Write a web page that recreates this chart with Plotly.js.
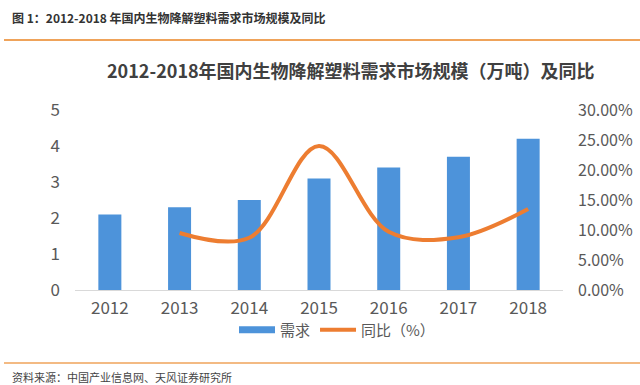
<!DOCTYPE html>
<html><head><meta charset="utf-8">
<script src="https://cdn.plot.ly/plotly-3.0.1.min.js"></script>
<style>body{margin:0;background:#fff}#c{width:640px;height:385px}</style>
</head><body><div id="c"></div>
<script>
const years = ['2012','2013','2014','2015','2016','2017','2018'];
const demand = [2.1, 2.3, 2.5, 3.1, 3.4, 3.7, 4.2];
const yoyYears = ['2013','2014','2015','2016','2017','2018'];
const yoy = [0.095, 0.087, 0.240, 0.097, 0.088, 0.135];
const leftTicks = [0,1,2,3,4,5];
const rightTicks = [0,0.05,0.10,0.15,0.20,0.25,0.30];

const L=75, R=563, T=110, B=290;
const W=R-L, H=B-T;
const px = X => (X-L)/W, py = Y => (B-Y)/H;
const FONT = '"Noto Sans CJK SC", "Noto Sans", sans-serif';
const BLUE = '#4D93DA';

const data = [
  {type:'bar', x:years, y:demand, name:'需求', marker:{color:BLUE}, yaxis:'y', showlegend:false},
  {type:'scatter', mode:'lines', x:[null], y:[null], name:'需求', yaxis:'y',
   line:{color:BLUE, width:7}, showlegend:true},
  {type:'scatter', mode:'lines', x:yoyYears, y:yoy, name:'同比（%）', yaxis:'y2',
   line:{color:'#ED7D31', width:4, shape:'spline', smoothing:1}}
];
const layout = {
  width:640, height:385,
  margin:{l:L, r:640-R, t:T, b:385-B, pad:0},
  paper_bgcolor:'#fff', plot_bgcolor:'#fff',
  font:{family:FONT, color:'#595959'},
  bargap:0.67,
  showlegend:true,
  legend:{orientation:'h', x:px(337), xanchor:'center', y:py(330), yanchor:'middle',
          font:{size:15, color:'#595959'}, traceorder:'normal', itemwidth:36},
  xaxis:{type:'category', showgrid:false, showline:true, linecolor:'#D9D9D9', linewidth:1,
         ticks:'', tickfont:{size:17, color:'#595959'}, zeroline:false, ticklabelstandoff:3},
  yaxis:{range:[0,5], tickvals:leftTicks, showgrid:false, showline:false, zeroline:false,
         ticks:'', tickfont:{size:17, color:'#595959'}, ticklabelstandoff:14},
  yaxis2:{range:[0,0.30], tickvals:rightTicks, tickformat:'.2%', overlaying:'y', side:'right',
          showgrid:false, showline:false, zeroline:false, ticks:'',
          tickfont:{size:16, color:'#595959'}, ticklabelstandoff:14},
  annotations:[
    {xref:'paper', yref:'paper', x:px(10), y:py(17), xanchor:'left', yanchor:'middle', showarrow:false,
     text:'<b>图 1：2012-2018 年国内生物降解塑料需求市场规模及同比</b>', font:{size:12, color:'#333', family:FONT}},
    {xref:'paper', yref:'paper', x:px(351), y:py(70), xanchor:'center', yanchor:'middle', showarrow:false,
     text:'<b>2012-2018年国内生物降解塑料需求市场规模（万吨）及同比</b>', font:{size:18, color:'#404040', family:FONT}},
    {xref:'paper', yref:'paper', x:px(10), y:py(377), xanchor:'left', yanchor:'middle', showarrow:false,
     text:'资料来源：中国产业信息网、天风证券研究所', font:{size:11, color:'#444', family:FONT}}
  ],
  shapes:[
    {type:'line', xref:'paper', yref:'paper', x0:px(4), x1:px(640), y0:py(40), y1:py(40), line:{color:'#EFA35A', width:2}},
    {type:'line', xref:'paper', yref:'paper', x0:px(4), x1:px(640), y0:py(363), y1:py(363), line:{color:'#EFA35A', width:1.5}}
  ]
};
Plotly.newPlot('c', data, layout, {displayModeBar:false, staticPlot:true});
</script></body></html>
